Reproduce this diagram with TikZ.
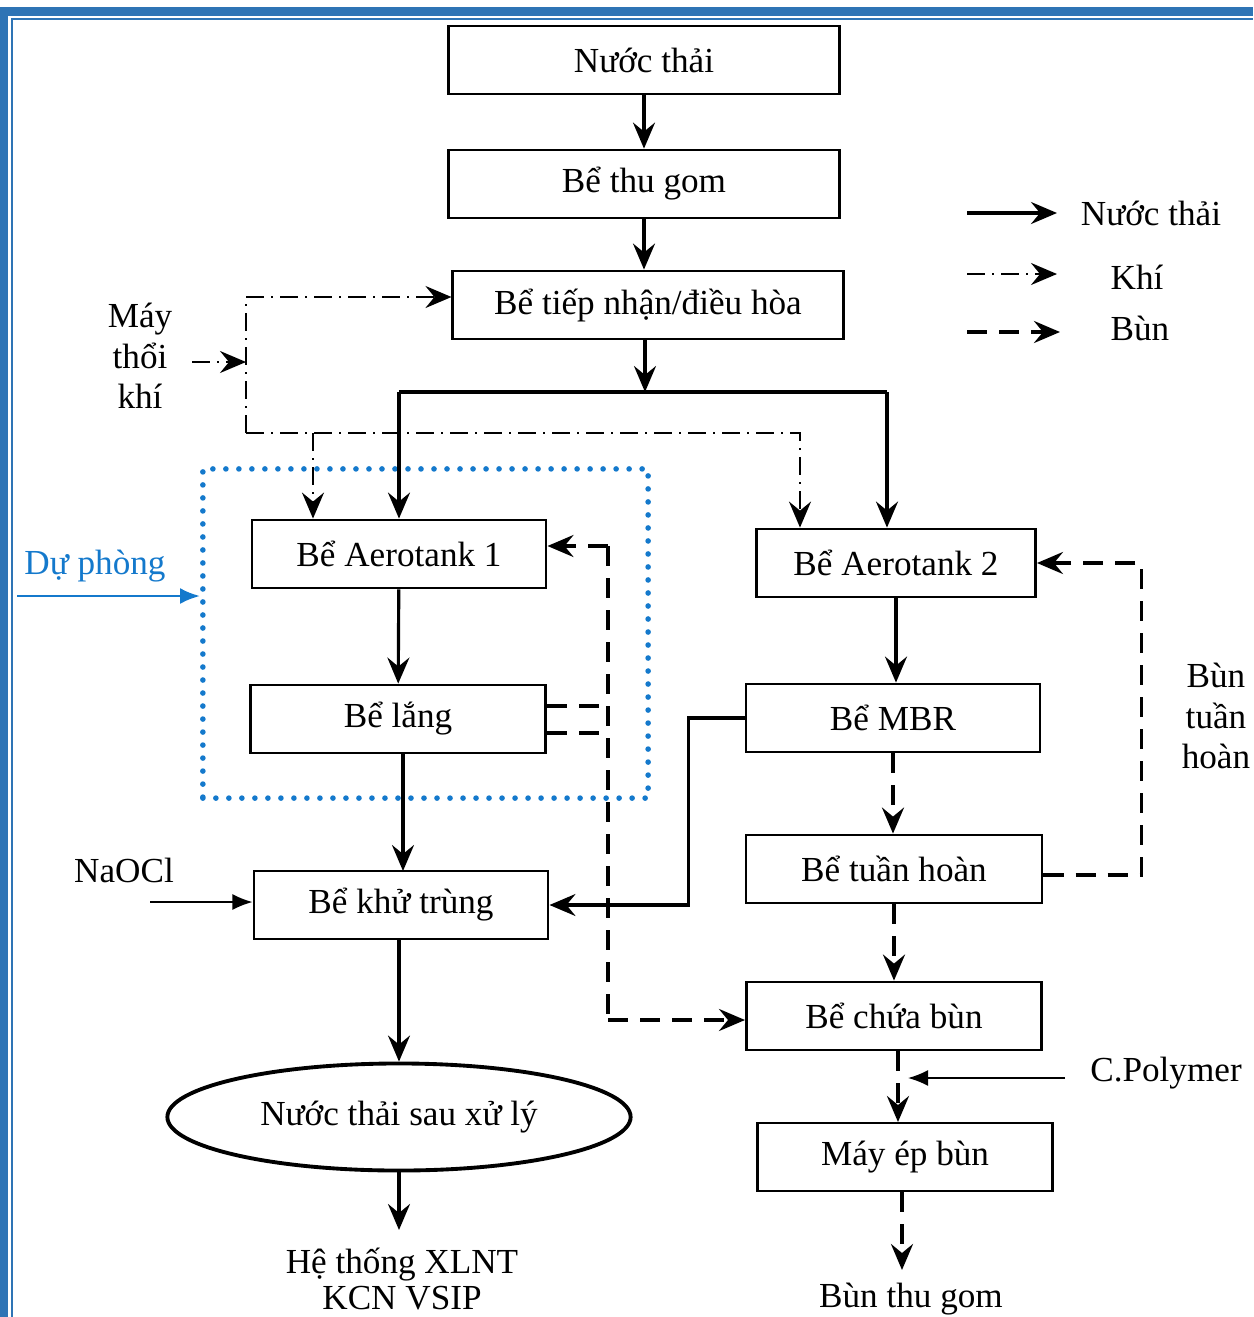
\documentclass[tikz,border=0pt]{standalone}
\usepackage{fontspec}
\setmainfont{Liberation Serif}
\usetikzlibrary{arrows.meta, shapes.geometric}

\definecolor{frameblue}{HTML}{2E74B5}
\definecolor{spareblue}{HTML}{1479CC}

\tikzset{%
  % Specifications for style of nodes:
         tank/.style = {rectangle, draw = black, line width=0.8pt, minimum height=0.68cm, inner sep=0pt, font=\fontsize{10}{12}\selectfont},
         pond/.style = {ellipse, draw = black, line width=1.1pt, minimum width=4.63cm, minimum height=1.07cm, inner sep=0pt, font=\fontsize{10}{12}\selectfont},
          txt/.style = {align=center, inner sep=0pt, font=\fontsize{10}{11.5}\selectfont},
        spare/.style = {draw = spareblue, line width=1.6pt, line cap=round, dash pattern=on 0pt off 1.3mm, minimum width=4.45cm, minimum height=3.29cm, inner sep=0pt},
  % Specifications for style of arrows:
        water/.style = {-{Stealth[length=2.6mm, width=2.2mm, inset=0.9mm]}, line width=0.9pt},
          air/.style = {-{Stealth[length=2.6mm, width=2.2mm, inset=0.9mm]}, line width=0.7pt, dash pattern=on 1.8mm off 0.7mm on 0.2mm off 0.7mm},
          mud/.style = {line width=1pt, dash pattern=on 2mm off 1.2mm},
      mudflow/.style = {mud, -{Stealth[length=2.6mm, width=2.2mm, inset=0.9mm]}},
         feed/.style = {-{Latex[length=2mm, width=1.6mm]}, line width=0.5pt},
}

\begin{document}
\begin{tikzpicture}[x=0.01cm, y=-0.01cm]
    \useasboundingbox (0,0) rectangle (1253,1317);

    % Page frame
    \fill[frameblue] (0,7) rectangle (1253,16);
    \fill[frameblue] (0,7) rectangle (8,1317);
    \draw[frameblue, line width=0.6pt] (12,1317) -- (12,19) -- (1253,19);

    % Draw nodes
    \node (nuocthai)  [tank, minimum width=3.9cm]  at (644,60)    {Nước thải};
    \node (thugom)    [tank, minimum width=3.9cm]  at (644,184)   {Bể thu gom};
    \node (dieuhoa)   [tank, minimum width=3.9cm]  at (648,305)   {Bể tiếp nhận/điều hòa};
    \node (backup)    [spare]                      at (425.5,633.5) {};
    \node (aero1)     [tank, minimum width=2.94cm] at (399,554)   {Bể Aerotank 1};
    \node (lang)      [tank, minimum width=2.95cm] at (398,719)   {Bể lắng};
    \node (khutrung)  [tank, minimum width=2.94cm] at (401,905)   {Bể khử trùng};
    \node (sauxuly)   [pond]                       at (399,1117)  {Nước thải sau xử lý};
    \node (xlnt)      [txt, font=\fontsize{10}{10.5}\selectfont] at (402,1279) {Hệ thống XLNT\\KCN VSIP};
    \node (aero2)     [tank, minimum width=2.79cm] at (896,563)   {Bể Aerotank 2};
    \node (mbr)       [tank, minimum width=2.94cm] at (893,718)   {Bể MBR};
    \node (tuanhoan)  [tank, minimum width=2.96cm] at (894,869)   {Bể tuần hoàn};
    \node (chuabun)   [tank, minimum width=2.95cm] at (894,1016)  {Bể chứa bùn};
    \node (mayep)     [tank, minimum width=2.95cm] at (905,1157)  {Máy ép bùn};
    \node (bunthu)    [txt]                        at (911,1299)  {Bùn thu gom};

    \node (maythoi)   [txt] at (140,356)  {Máy\\thổi\\khí};
    \node (duphong)   [txt, text=spareblue] at (95,566) {Dự phòng};
    \node (naocl)     [txt] at (124,870)  {NaOCl};
    \node (polymer)   [txt] at (1166,1073) {C.Polymer};
    \node (bunth)     [txt] at (1216,716) {Bùn\\tuần\\hoàn};

    % Legend
    \node (lgwater)   [txt] at (1151,213) {Nước thải};
    \node (lgair)     [txt] at (1137,277) {Khí};
    \node (lgmud)     [txt] at (1140,328) {Bùn};
    \coordinate (k1) at (967,213);
    \coordinate (k2) at (967,274);
    \coordinate (k3) at (967,332);
    \draw[water]   (k1) -- ++(90,0);
    \draw[air]     (k2) -- ++(90,0);
    \draw[mudflow] (k3) -- ++(93,0);

    % Draw arrows: water
    \coordinate (sL) at (399,392);
    \coordinate (sR) at (887,392);
    \draw[water] (nuocthai) -- (thugom);
    \draw[water] (thugom) -- (thugom.south |- dieuhoa.north);
    \draw[water] (dieuhoa.south -| 645,0) -- (645,392);
    \draw[line width=0.9pt] (sL) -- (sR);
    \draw[water] (sL) -- (sL |- aero1.north);
    \draw[water] (sR) -- (sR |- aero2.north);
    \draw[water] (aero1) -- (lang);
    \draw[water] (lang.south -| 403,0) -- (403,871);
    \draw[water] (khutrung.south -| sauxuly.north) -- (sauxuly.north);
    \draw[water] (sauxuly) -- (sauxuly.south |- 0,1230);
    \draw[water] (aero2) -- (aero2.south |- mbr.north);
    \draw[water] (mbr.west) -- ++(-56,0) |- (khutrung.east);

    % Draw arrows: air
    \coordinate (airin) at (192,362);
    \coordinate (aTop)  at (246,297);
    \coordinate (aBot)  at (246,433);
    \coordinate (aSplit) at (313,433);
    \coordinate (aEnd)  at (800,433);
    \draw[air] (airin) -- (airin -| aTop);
    \draw[air] (aBot) -- (aTop) -- (aTop -| dieuhoa.west);
    \draw[air] (aBot) -- (aEnd) -- (aEnd |- aero2.north);
    \draw[air] (aSplit) -- (aSplit |- aero1.north);

    % Draw arrows: sludge
    \coordinate (rTop) at (608,546);
    \coordinate (rBot) at (608,1020);
    \draw[mud] ([yshift=0.13cm]lang.east) -- ++(52,0);
    \draw[mud] ([yshift=-0.14cm]lang.east) -- ++(52,0);
    \draw[mud] (rTop) -- (rBot);
    \draw[mudflow] (rTop) -- (rTop -| aero1.east);
    \draw[mudflow] (rBot) -- (rBot -| chuabun.west);
    \draw[mudflow] (mbr) -- (mbr.south |- tuanhoan.north);
    \draw[mudflow] ([yshift=-0.06cm]tuanhoan.east) -- ++(98,0) |- (aero2.east);
    \draw[mudflow] (tuanhoan) -- (tuanhoan.south |- chuabun.north);
    \draw[mudflow] (chuabun.south -| 898,0) -- (898,1122);
    \draw[mudflow] (mayep.south -| 902,0) -- (902,1270);

    % Feeds
    \coordinate (naoin)  at (150,902);
    \coordinate (polyin) at (1065,1078);
    \coordinate (dpin)   at (17,596);
    \draw[feed] (naoin) -- (naoin -| khutrung.west);
    \draw[feed] (polyin) -- (908,1078);
    \draw[feed, spareblue, line width=0.8pt] (dpin) -- (dpin -| backup.west);

\end{tikzpicture}
\end{document}
